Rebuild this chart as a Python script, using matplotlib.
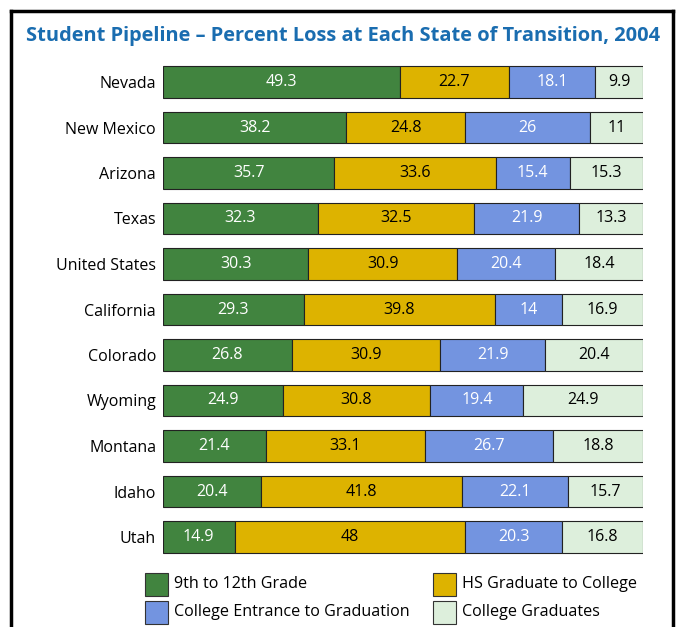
import matplotlib
matplotlib.use("Agg")
import matplotlib.pyplot as plt
from matplotlib.patches import Rectangle
from matplotlib.lines import Line2D
import numpy as np

plt.rcParams['font.family'] = ['Open Sans', 'DejaVu Sans']

states = ["Nevada", "New Mexico", "Arizona", "Texas", "United States", "California",
          "Colorado", "Wyoming", "Montana", "Idaho", "Utah"]
grade_9_12 = [49.3, 38.2, 35.7, 32.3, 30.3, 29.3, 26.8, 24.9, 21.4, 20.4, 14.9]
hs_to_college = [22.7, 24.8, 33.6, 32.5, 30.9, 39.8, 30.9, 30.8, 33.1, 41.8, 48]
entrance_to_grad = [18.1, 26, 15.4, 21.9, 20.4, 14, 21.9, 19.4, 26.7, 22.1, 20.3]
college_grads = [9.9, 11, 15.3, 13.3, 18.4, 16.9, 20.4, 24.9, 18.8, 15.7, 16.8]

series_names = ["9th to 12th Grade", "HS Graduate to College",
                "College Entrance to Graduation", "College Graduates"]
colors = ["#41843f", "#ddb300", "#7394e0", "#ddefdc"]
text_colors = ["white", "black", "white", "black"]

W, H = 676, 627
fig = plt.figure(figsize=(W / 100, H / 100), dpi=100)

# frame around the figure (no bottom edge)
for xs, ys in [([11, 11], [11, 627]), ([11, 673], [11, 11]), ([673, 673], [11, 627])]:
    fig.add_artist(Line2D([x / W for x in xs], [1 - y / H for y in ys],
                          color="black", lw=2.5, transform=fig.transFigure))

fig.text(343 / W, 1 - 36 / H, "Student Pipeline \u2013 Percent Loss at Each State of Transition, 2004",
         ha="center", va="center", fontsize=14.4, fontweight="bold", color="#1a6db0")

ax = fig.add_axes([163 / W, 1 - 559.75 / H, 480 / W, (559.75 - 59.25) / H])
y = np.arange(len(states))
data = [grade_9_12, hs_to_college, entrance_to_grad, college_grads]
left = np.zeros(len(states))
for vals, c, tc in zip(data, colors, text_colors):
    vals = np.array(vals, dtype=float)
    ax.barh(y, vals, left=left, height=0.7, color=c, edgecolor="#222222", linewidth=0.8)
    for yi, l, v in zip(y, left, vals):
        ax.text(l + v / 2, yi, f"{v:g}", ha="center", va="center", color=tc, fontsize=11.5)
    left += vals

ax.set_xlim(0, 100)
ax.set_ylim(len(states) - 0.5, -0.5)
ax.set_yticks(y)
ax.set_yticklabels(states, fontsize=11.5)
ax.tick_params(axis="y", length=0, pad=5)
ax.set_xticks([])
for s in ax.spines.values():
    s.set_visible(False)

# legend, two columns
leg_pos = [(145, 584.5), (433, 584.5), (145, 612.5), (433, 612.5)]
for (px, py), name, c in zip(leg_pos, series_names, colors):
    fig.add_artist(Rectangle((px / W, 1 - (py + 11.5) / H), 23 / W, 23 / H,
                             facecolor=c, edgecolor="#333333", lw=0.8,
                             transform=fig.transFigure))
    fig.text((px + 29) / W, 1 - py / H, name, ha="left", va="center", fontsize=11.6)

fig.savefig("out.png", dpi=100)
